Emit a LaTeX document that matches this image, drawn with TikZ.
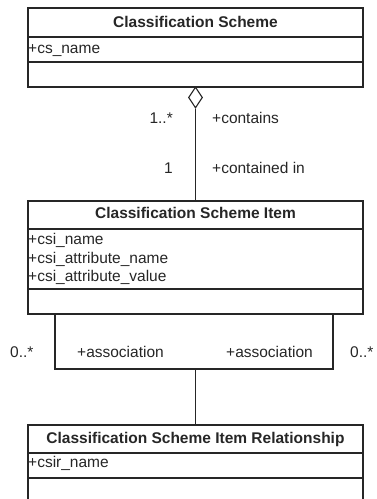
\documentclass[tikz,border=0pt]{standalone}
\usepackage{fontspec}
\setmainfont{Liberation Sans}
\usetikzlibrary{shapes.geometric}
\begin{document}
\begin{tikzpicture}[x=1pt,y=-1pt,
  line/.style={draw=black!85,line width=1.1pt},
  classbox/.style={line,rectangle,inner sep=0pt,minimum width=335pt},
  lbl/.style={inner sep=0pt,text=black!85,font=\fontsize{15.5}{18}\selectfont},
  ttl/.style={lbl,anchor=base,font=\fontsize{15.5}{18}\selectfont\bfseries},
  attr/.style={lbl,anchor=base west},
  agg/.style={line,diamond,fill=white,inner sep=0pt,minimum width=14pt,minimum height=21pt}]
\useasboundingbox (0,0) rectangle (376,499);
\clip (0,0) rectangle (376,499);

% Classification Scheme
\node[classbox,minimum height=79pt] (cs) at (195.5,47.5) {};
\draw[line] (28,37) -- (363,37) (28,62) -- (363,62);
\node[ttl] (cstitle) at (195.5,27) {Classification Scheme};
\node[attr] (csattr) at (28,53) {+cs\_name};

% Classification Scheme Item
\node[classbox,minimum height=113pt] (csi) at (195.5,257.5) {};
\draw[line] (28,229) -- (363,229) (28,289) -- (363,289);
\node[ttl] (csititle) at (195.5,218) {Classification Scheme Item};
\node[attr] (csia1) at (28,244) {+csi\_name};
\node[attr] (csia2) at (28,263) {+csi\_attribute\_name};
\node[attr] (csia3) at (28,281) {+csi\_attribute\_value};

% Classification Scheme Item Relationship (runs past the lower edge)
\node[classbox,minimum height=100pt] (csir) at (195.5,475) {};
\draw[line] (28,453) -- (363,453) (28,478) -- (363,478);
\node[ttl] (csirtitle) at (195.5,443) {Classification Scheme Item Relationship};
\node[attr] (csirattr) at (28,467) {+csir\_name};

% aggregation: scheme contains items
\node[agg] (dia) at (195.5,97.5) {};
\draw[line] (dia.south) -- (csi.north);
\node[lbl,anchor=base east] (m1) at (173,123) {1..*};
\node[lbl,anchor=base west] (r1) at (212,123) {+contains};
\node[lbl,anchor=base east] (m2) at (173,173) {1};
\node[lbl,anchor=base west] (r2) at (212,173) {+contained in};

% self association of items through the relationship class
\coordinate (aL) at (55,369);
\coordinate (aR) at (333,369);
\coordinate (aM) at (195.5,369);
\draw[line] (csi.south -| aL) -- (aL) -- (aR) -- (csi.south -| aR);
\draw[line] (aM) -- (csir.north);
\node[lbl,anchor=base west] (m3) at (10,357) {0..*};
\node[lbl,anchor=base west] (r3) at (77,357) {+association};
\node[lbl,anchor=base east] (r4) at (313,357) {+association};
\node[lbl,anchor=base west] (m4) at (350,357) {0..*};
\end{tikzpicture}
\end{document}
